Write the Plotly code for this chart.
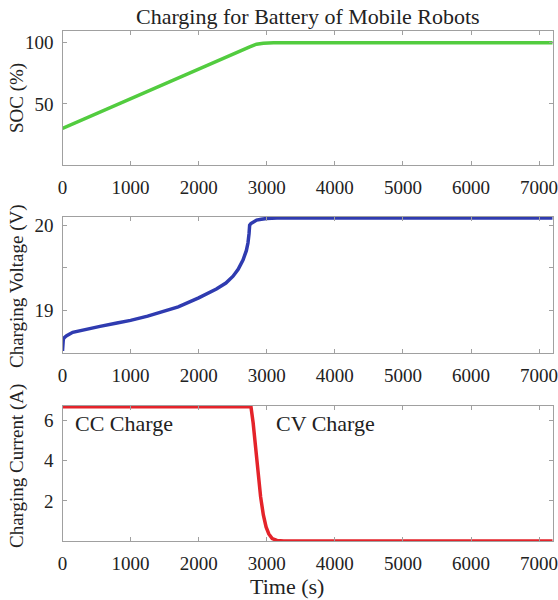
import plotly.graph_objects as go

# ---------------- data ----------------
soc_time = [0, 1000, 2000, 2750, 2850, 2950, 3100, 7200]
soc_pct = [30, 54.5, 78.5, 96.7, 98.9, 99.7, 100, 100]

volt_time = [0, 5, 12, 30, 61, 150, 300, 551, 800, 1000, 1250, 1450, 1700, 2000,
             2260, 2400, 2505, 2580, 2651, 2700, 2724, 2740, 2749, 2768, 2800,
             2851, 2920, 2998, 3150, 7200]
volt_v = [18.52, 18.60, 18.66, 18.68, 18.70, 18.74, 18.77, 18.81, 18.85, 18.88,
          18.93, 18.98, 19.04, 19.145, 19.25, 19.32, 19.40, 19.48, 19.59, 19.70,
          19.79, 19.90, 20.00, 20.02, 20.04, 20.06, 20.07, 20.08, 20.085, 20.085]

curr_time = [0, 2768, 2800, 2830, 2870, 2910, 2950, 2990, 3030, 3080, 3150, 3250, 7200]
curr_a = [6.7, 6.7, 5.9, 4.9, 3.5, 2.2, 1.3, 0.7, 0.35, 0.12, 0.03, 0.0, 0.0]

x_ticks = [0, 1000, 2000, 3000, 4000, 5000, 6000, 7000]

title_text = "Charging for Battery of Mobile Robots"
soc_label = "SOC (%)"
volt_label = "Charging Voltage (V)"
curr_label = "Charging Current (A)"
time_label = "Time (s)"

# ---------------- figure ----------------
W, H = 558, 600
FONT = "Liberation Serif"
FRAME = "#a0a0a0"


def px_x(p):
    return p / W


def px_y(p):
    return 1 - p / H


left, right = px_x(62.5), px_x(552.7)
doms = [
    (px_y(165.0), px_y(30.6)),
    (px_y(352.7), px_y(216.7)),
    (px_y(541.0), px_y(405.7)),
]

fig = go.Figure()
fig.add_trace(go.Scatter(x=soc_time, y=soc_pct, mode="lines",
                         line=dict(color="#52cc3f", width=3.5),
                         xaxis="x", yaxis="y", showlegend=False))
fig.add_trace(go.Scatter(x=volt_time, y=volt_v, mode="lines",
                         line=dict(color="#2f3bb0", width=3.5),
                         xaxis="x2", yaxis="y2", showlegend=False))
fig.add_trace(go.Scatter(x=curr_time, y=curr_a, mode="lines",
                         line=dict(color="#e4232a", width=3.5),
                         xaxis="x3", yaxis="y3", showlegend=False))

common_axis = dict(showline=True, linecolor=FRAME, linewidth=1.2, mirror="ticks",
                   ticks="inside", ticklen=4, tickcolor=FRAME, showgrid=False,
                   zeroline=False, automargin=False, ticklabeloverflow="allow",
                   tickfont=dict(family=FONT, size=19, color="#222"))

layout = dict(
    width=W, height=H,
    margin=dict(l=0, r=0, t=0, b=0, autoexpand=False),
    paper_bgcolor="white", plot_bgcolor="white",
    font=dict(family=FONT, color="#222"),
)
for i, (y0, y1) in enumerate(doms, start=1):
    sx = "" if i == 1 else str(i)
    layout["xaxis" + sx] = dict(domain=[left, right], anchor="y" + sx, range=[0, 7200],
                                tickvals=x_ticks, ticklabelstandoff=5, **common_axis)
    layout["yaxis" + sx] = dict(domain=[y0, y1], anchor="x" + sx, ticklabelstandoff=4,
                                **common_axis)

layout["yaxis"].update(range=[0, 110], tickvals=[50, 100])
layout["yaxis2"].update(range=[18.5, 20.1], tickvals=[19, 19.5, 20], ticktext=["19", "", "20"])
layout["yaxis3"].update(range=[0, 6.75], tickvals=[2, 4, 6])

fig.update_layout(**layout)

ann = [
    dict(text=title_text, x=(left + right) / 2, y=px_y(17), font=dict(size=22)),
    dict(text=soc_label, x=px_x(17), y=px_y(98), textangle=-90, font=dict(size=19)),
    dict(text=volt_label, x=px_x(17), y=px_y(286), textangle=-90, font=dict(size=19)),
    dict(text=curr_label, x=px_x(17), y=px_y(466), textangle=-90, font=dict(size=19)),
    dict(text=time_label, x=px_x(287), y=px_y(586), font=dict(size=22)),
]
for a in ann:
    fig.add_annotation(xref="paper", yref="paper", showarrow=False,
                       xanchor="center", yanchor="middle",
                       font=dict(family=FONT, color="#222", size=a["font"]["size"]),
                       text=a["text"], x=a["x"], y=a["y"],
                       textangle=a.get("textangle", 0))

fig.add_annotation(xref="x3", yref="y3", x=150, y=5.85, text="CC Charge", showarrow=False,
                   xanchor="left", yanchor="middle",
                   font=dict(family=FONT, size=22, color="#222"))
fig.add_annotation(xref="x3", yref="y3", x=3110, y=5.85, text="CV Charge", showarrow=False,
                   xanchor="left", yanchor="middle",
                   font=dict(family=FONT, size=22, color="#222"))

fig.write_html("out.html", config={"displayModeBar": False},
               post_script="document.body.style.margin='0';document.body.style.overflow='hidden';")
